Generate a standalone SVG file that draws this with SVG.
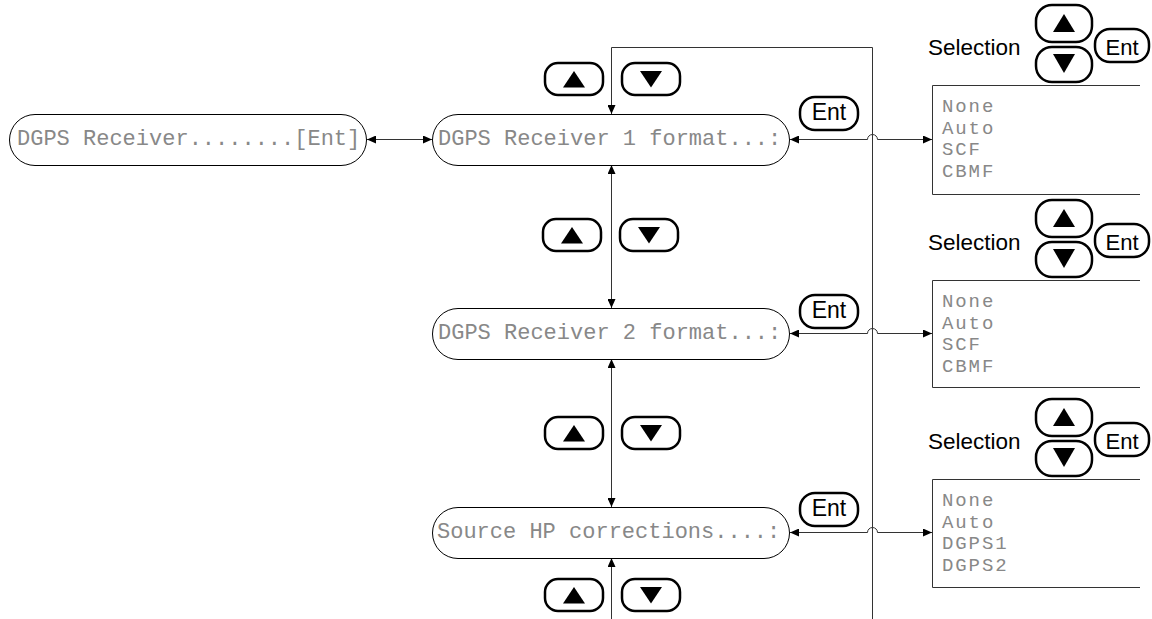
<svg xmlns="http://www.w3.org/2000/svg" width="1152" height="619" viewBox="0 0 1152 619">
  <defs>
    <style>
      .node { fill: #fff; stroke: #000; stroke-width: 1; }
      .lcd { font-family: "Liberation Mono", "DejaVu Sans Mono", monospace; font-size: 22px; fill: #888; }
      .opt { font-family: "Liberation Mono", "DejaVu Sans Mono", monospace; font-size: 19px; letter-spacing: 1.9px; fill: #888; }
      .key { fill: #fff; stroke: #000; stroke-width: 2.5; }
      .keytxt { font-family: "Liberation Sans", Arial, sans-serif; font-size: 23px; fill: #000; text-anchor: middle; }
      .sel { font-family: "Liberation Sans", Arial, sans-serif; font-size: 22.5px; fill: #000; }
      .tri { fill: #000; }
      .wire { fill: none; stroke: #333; stroke-width: 1; }
      .list { fill: none; stroke: #333; stroke-width: 1; }
    </style>
    <marker id="ah" viewBox="0 0 9 8" refX="9" refY="4" markerWidth="9" markerHeight="8" markerUnits="userSpaceOnUse" orient="auto-start-reverse">
      <path d="M0,0 L9,4 L0,8 z" fill="#000"/>
    </marker>
    <!-- up / down arrow keys -->
    <g id="keyUp">
      <rect class="key" x="0" y="0" width="58" height="32" rx="13"/>
      <path class="tri" d="M18,24.5 L40,24.5 L29,8 z"/>
    </g>
    <g id="keyDown">
      <rect class="key" x="0" y="0" width="58" height="32" rx="13"/>
      <path class="tri" d="M18,8 L40,8 L29,24.5 z"/>
    </g>
    <!-- selection prompt with stacked up/down keys and Ent -->
    <g id="selPrompt">
      <text class="sel" x="928" y="-30">Selection</text>
      <rect class="key" x="1036" y="-80" width="56" height="37" rx="16"/>
      <path class="tri" d="M1053,-53 L1075,-53 L1064,-71 z"/>
      <rect class="key" x="1036" y="-38" width="56" height="35" rx="16"/>
      <path class="tri" d="M1053,-31 L1075,-31 L1064,-12 z"/>
      <rect class="key" x="1095" y="-56" width="54" height="33" rx="15"/>
      <text class="keytxt" x="1122" y="-30" style="font-size:22px">Ent</text>
    </g>
  </defs>

  <!-- connectors -->
  <g id="connectors">
    <path class="wire" d="M367,139.5 H432" marker-start="url(#ah)" marker-end="url(#ah)"/>
    <path class="wire" d="M611.5,114 V47.5 H872.5 V619" marker-start="url(#ah)"/>
    <path class="wire" d="M611.5,165 V308" marker-start="url(#ah)" marker-end="url(#ah)"/>
    <path class="wire" d="M611.5,359 V507" marker-start="url(#ah)" marker-end="url(#ah)"/>
    <path class="wire" d="M611.5,619 V558" marker-end="url(#ah)"/>
    <path class="wire" d="M790,139.5 H867.5 A5,5 0 0 1 877.5,139.5 H932" marker-start="url(#ah)" marker-end="url(#ah)"/>
    <path class="wire" d="M790,333.5 H867.5 A5,5 0 0 1 877.5,333.5 H932" marker-start="url(#ah)" marker-end="url(#ah)"/>
    <path class="wire" d="M790,532.5 H867.5 A5,5 0 0 1 877.5,532.5 H932" marker-start="url(#ah)" marker-end="url(#ah)"/>
  </g>

  <!-- menu entries -->
  <g id="node-dgps-receiver">
    <rect class="node" x="9.5" y="114.5" width="357" height="51" rx="25.5"/>
    <text class="lcd" x="17" y="144.5">DGPS Receiver........[Ent]</text>
  </g>
  <g id="node-receiver1">
    <rect class="node" x="432.5" y="114.5" width="357" height="51" rx="25.5"/>
    <text class="lcd" x="438" y="145">DGPS Receiver 1 format...:</text>
  </g>
  <g id="node-receiver2">
    <rect class="node" x="432.5" y="308.5" width="357" height="51" rx="25.5"/>
    <text class="lcd" x="438" y="339">DGPS Receiver 2 format...:</text>
  </g>
  <g id="node-source-hp">
    <rect class="node" x="432.5" y="507.5" width="357" height="51" rx="25.5"/>
    <text class="lcd" x="437" y="538">Source HP corrections....:</text>
  </g>

  <!-- navigation keys along the menu column -->
  <g id="keys-nav">
    <use href="#keyUp" x="545" y="63"/>
    <use href="#keyDown" x="622" y="63"/>
    <use href="#keyUp" x="543" y="219"/>
    <use href="#keyDown" x="620" y="219"/>
    <use href="#keyUp" x="545" y="417"/>
    <use href="#keyDown" x="622" y="417"/>
    <use href="#keyUp" x="545" y="579"/>
    <use href="#keyDown" x="622" y="579"/>
  </g>

  <!-- Ent keys opening each option list -->
  <g id="keys-ent">
    <rect class="key" x="800" y="97" width="58" height="33" rx="15"/>
    <text class="keytxt" x="829" y="120">Ent</text>
    <rect class="key" x="800" y="295" width="58" height="33" rx="15"/>
    <text class="keytxt" x="829" y="318">Ent</text>
    <rect class="key" x="800" y="493" width="58" height="33" rx="15"/>
    <text class="keytxt" x="829" y="516">Ent</text>
  </g>

  <!-- option lists -->
  <g id="list-receiver1" transform="translate(0,85)">
    <use href="#selPrompt"/>
    <path class="list" d="M1140,0.5 H932.5 V109.5 H1140"/>
    <text class="opt" x="942" y="27">None</text>
    <text class="opt" x="942" y="48.5">Auto</text>
    <text class="opt" x="942" y="70">SCF</text>
    <text class="opt" x="942" y="91.5">CBMF</text>
  </g>
  <g id="list-receiver2" transform="translate(0,280)">
    <use href="#selPrompt"/>
    <path class="list" d="M1140,0.5 H932.5 V107.5 H1140"/>
    <text class="opt" x="942" y="27">None</text>
    <text class="opt" x="942" y="48.5">Auto</text>
    <text class="opt" x="942" y="70">SCF</text>
    <text class="opt" x="942" y="91.5">CBMF</text>
  </g>
  <g id="list-source-hp" transform="translate(0,479)">
    <use href="#selPrompt"/>
    <path class="list" d="M1140,0.5 H932.5 V108.5 H1140"/>
    <text class="opt" x="942" y="27">None</text>
    <text class="opt" x="942" y="48.5">Auto</text>
    <text class="opt" x="942" y="70">DGPS1</text>
    <text class="opt" x="942" y="91.5">DGPS2</text>
  </g>
</svg>
